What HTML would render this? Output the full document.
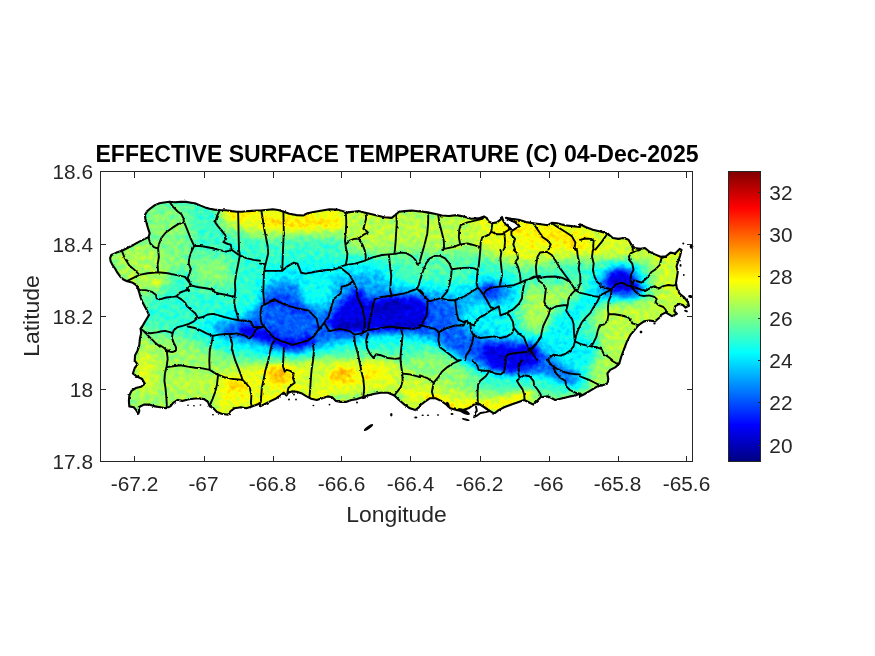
<!DOCTYPE html>
<html lang="en"><head><meta charset="utf-8"><title>Effective Surface Temperature</title>
<style>html,body{margin:0;padding:0;background:#fff}body{width:875px;height:656px;overflow:hidden}svg{display:block}text{font-family:"Liberation Sans",sans-serif;fill:#262626}</style></head><body>
<svg width="875" height="656" viewBox="0 0 875 656">
<defs>
<clipPath id="island"><path d="M110.1,258.1 111.3,255.0 116.5,252.6 121.9,250.8 127.4,248.0 133.8,244.7 139.3,241.6 144.8,238.9 148.5,237.1 149.7,233.4 147.9,227.9 146.6,223.3 145.3,218.8 145.0,214.7 147.2,211.1 151.2,207.8 154.9,205.1 159.4,203.2 164.0,202.5 169.5,201.8 175.0,202.3 180.5,201.9 185.9,201.9 191.4,202.7 196.0,203.6 200.6,205.6 205.1,207.4 209.7,208.7 214.3,209.6 219.8,210.0 226.2,210.2 231.7,211.1 237.1,211.8 241.7,211.8 246.3,211.3 251.8,210.9 257.3,210.5 260.0,210.5 260.0,210.5 265.5,210.0 272.8,209.3 278.3,210.0 283.8,211.8 289.3,213.7 296.6,215.1 303.0,215.5 307.5,213.3 314.9,211.8 322.2,210.5 329.5,209.3 336.8,209.6 342.3,211.1 347.8,212.4 353.3,211.8 358.7,211.1 364.2,212.4 369.7,213.7 377.0,215.5 384.3,217.3 391.7,217.9 396.2,214.2 399.0,211.8 404.5,211.1 411.8,210.5 420.0,211.5 420.0,211.1 427.3,212.4 434.6,213.7 441.9,215.5 449.3,216.0 456.6,215.1 463.9,216.6 471.2,218.8 478.5,218.4 484.0,216.6 486.7,217.9 488.6,221.5 492.2,223.3 496.8,222.4 500.5,219.7 501.9,216.9 503.2,220.6 505.6,224.3 509.6,227.5 512.3,230.7 515.1,228.8 519.7,226.1 515.1,222.4 509.6,219.7 505.9,217.9 511.4,218.8 518.7,219.7 526.1,222.1 533.4,223.3 540.7,224.3 548.0,225.2 551.7,222.8 557.1,223.3 564.5,225.2 571.8,226.1 580.0,227.0 580.0,224.3 585.5,227.0 592.8,229.7 600.1,231.6 607.4,233.4 612.9,238.0 618.4,238.9 623.9,238.0 628.5,239.8 631.2,244.4 634.9,248.0 640.3,248.9 644.9,248.0 649.5,251.7 655.0,254.4 660.5,256.8 665.9,256.3 670.5,252.6 675.1,253.5 679.7,248.9 681.5,249.9 680.2,255.3 678.4,260.8 676.5,266.3 677.8,271.8 676.9,277.3 676.0,282.8 676.9,288.3 679.7,293.7 684.2,297.4 687.9,302.0 689.0,305.7 685.4,307.6 682.9,305.1 679.3,303.9 675.0,306.3 674.4,311.2 676.8,313.7 672.0,316.1 667.7,313.7 665.9,312.4 661.0,314.9 660.5,316.8 655.0,321.4 649.5,320.5 644.0,321.4 638.5,325.1 634.9,329.6 630.3,335.1 626.6,342.4 623.9,349.7 621.1,357.1 619.3,363.5 615.7,367.1 610.2,369.9 607.4,373.5 608.3,379.0 607.4,383.6 601.9,385.4 597.4,386.3 592.8,389.1 588.2,391.8 583.7,394.5 580.0,396.4 580.0,393.6 575.4,395.5 569.9,396.4 562.6,398.2 555.3,400.0 548.0,396.4 540.7,397.3 537.0,400.9 533.4,404.6 529.7,402.8 524.2,400.0 518.7,401.9 511.4,404.6 504.1,407.3 498.6,410.1 494.1,413.7 488.6,410.1 483.1,406.4 478.5,403.7 473.9,404.6 468.5,408.3 463.0,410.1 456.6,410.1 450.2,408.3 446.5,404.6 441.0,400.9 435.5,398.2 430.1,398.2 424.6,401.9 420.0,405.5 420.0,406.4 415.4,410.1 409.9,408.3 404.5,404.6 399.0,400.0 394.4,395.5 388.0,392.7 380.7,392.7 373.4,394.0 367.9,395.5 362.4,397.3 356.9,399.1 351.4,400.0 345.9,401.9 340.5,401.9 335.9,400.9 332.2,397.3 327.7,396.4 322.2,398.2 316.7,400.0 311.2,398.7 306.6,396.4 302.1,393.6 296.6,391.8 292.0,391.4 288.3,392.7 286.5,395.5 283.8,392.7 280.1,395.5 276.5,398.2 271.0,400.9 265.5,403.7 260.0,406.4 260.0,402.8 257.3,404.6 251.8,406.4 246.3,408.3 240.8,407.3 234.4,408.3 230.7,411.0 228.0,414.7 221.6,413.7 217.0,411.9 213.4,408.3 209.7,406.4 207.9,401.9 204.2,399.1 198.7,398.2 193.3,398.7 187.8,399.5 182.3,400.9 177.7,400.0 173.1,402.8 170.4,406.4 165.8,408.3 160.3,407.3 154.9,406.4 149.4,404.6 143.9,404.6 138.8,407.3 139.3,411.0 138.4,413.7 136.2,410.1 133.8,407.3 129.3,406.4 128.9,400.9 129.3,395.5 131.5,390.9 135.7,388.1 141.1,386.7 144.8,383.6 142.1,379.0 136.6,376.3 132.9,373.5 134.7,368.0 137.5,364.4 134.7,360.7 135.1,355.2 137.5,350.7 139.3,345.2 139.9,338.8 141.1,333.3 140.6,328.7 143.0,325.1 145.7,320.5 149.0,315.0 149.0,315.0 147.2,311.1 144.8,306.5 142.4,302.0 140.6,297.4 139.3,292.8 138.0,288.6 136.2,285.0 132.0,282.4 127.1,281.3 123.4,279.5 120.1,276.4 117.4,272.7 115.0,268.5 112.4,264.9 110.6,261.2 110.1,258.1Z"/>
</clipPath>
<filter id="jet" filterUnits="userSpaceOnUse" x="90" y="165" width="620" height="300" color-interpolation-filters="sRGB">
<feTurbulence type="fractalNoise" baseFrequency="0.2" numOctaves="2" seed="7" result="n"/>
<feColorMatrix in="n" type="matrix" values="1 0 0 0 0  1 0 0 0 0  1 0 0 0 0  0 0 0 0 1" result="ng"/>
<feComposite in="SourceGraphic" in2="ng" operator="arithmetic" k1="0" k2="1" k3="0.15" k4="-0.075" result="f"/>
<feComponentTransfer in="f"><feFuncR type="table" tableValues="0 0 0 0 0.5 1 1 1 0.5"/><feFuncG type="table" tableValues="0 0 0.5 1 1 1 0.5 0 0"/><feFuncB type="table" tableValues="0.5 1 1 1 0.5 0 0 0 0"/></feComponentTransfer>
</filter>
<filter id="b2_5" filterUnits="userSpaceOnUse" x="60" y="140" width="680" height="350" color-interpolation-filters="sRGB"><feGaussianBlur stdDeviation="2.5"/></filter>
<filter id="b3" filterUnits="userSpaceOnUse" x="60" y="140" width="680" height="350" color-interpolation-filters="sRGB"><feGaussianBlur stdDeviation="3"/></filter>
<filter id="b3_5" filterUnits="userSpaceOnUse" x="60" y="140" width="680" height="350" color-interpolation-filters="sRGB"><feGaussianBlur stdDeviation="3.5"/></filter>
<filter id="b4" filterUnits="userSpaceOnUse" x="60" y="140" width="680" height="350" color-interpolation-filters="sRGB"><feGaussianBlur stdDeviation="4"/></filter>
<filter id="b5" filterUnits="userSpaceOnUse" x="60" y="140" width="680" height="350" color-interpolation-filters="sRGB"><feGaussianBlur stdDeviation="5"/></filter>
<filter id="b6" filterUnits="userSpaceOnUse" x="60" y="140" width="680" height="350" color-interpolation-filters="sRGB"><feGaussianBlur stdDeviation="6"/></filter>
<filter id="b7" filterUnits="userSpaceOnUse" x="60" y="140" width="680" height="350" color-interpolation-filters="sRGB"><feGaussianBlur stdDeviation="7"/></filter>
<filter id="b8" filterUnits="userSpaceOnUse" x="60" y="140" width="680" height="350" color-interpolation-filters="sRGB"><feGaussianBlur stdDeviation="8"/></filter>
<filter id="rough" filterUnits="userSpaceOnUse" x="90" y="165" width="620" height="300"><feTurbulence type="fractalNoise" baseFrequency="0.3" numOctaves="2" seed="3" result="t"/><feDisplacementMap in="SourceGraphic" in2="t" scale="2.2" xChannelSelector="R" yChannelSelector="G"/></filter>
<linearGradient id="cb" x1="0" y1="1" x2="0" y2="0">
<stop offset="0.000" stop-color="rgb(0,0,128)"/>
<stop offset="0.125" stop-color="rgb(0,0,255)"/>
<stop offset="0.250" stop-color="rgb(0,128,255)"/>
<stop offset="0.375" stop-color="rgb(0,255,255)"/>
<stop offset="0.500" stop-color="rgb(128,255,128)"/>
<stop offset="0.625" stop-color="rgb(255,255,0)"/>
<stop offset="0.750" stop-color="rgb(255,128,0)"/>
<stop offset="0.875" stop-color="rgb(255,0,0)"/>
<stop offset="1.000" stop-color="rgb(128,0,0)"/>
</linearGradient>
</defs>
<rect width="875" height="656" fill="#fff"/>
<g clip-path="url(#island)"><g filter="url(#jet)">
<rect x="90" y="165" width="620" height="300" fill="#6e6e6e"/>
<path d="M105.0,250.0 150.0,238.0 172.0,255.0 170.0,285.0 150.0,300.0 135.0,300.0 120.0,290.0Z" fill="#8e8e8e" opacity="0.9" filter="url(#b7)"/>
<ellipse cx="157.0" cy="283.0" rx="5" ry="4" fill="#a7a7a7" opacity="0.9" filter="url(#b3)"/>
<path d="M148.0,205.0 185.0,205.0 195.0,240.0 165.0,250.0 143.0,235.0Z" fill="#858585" opacity="0.85" filter="url(#b6)"/>
<path d="M192.0,255.0 232.0,258.0 236.0,285.0 195.0,290.0Z" fill="#858585" opacity="0.85" filter="url(#b6)"/>
<path d="M160.0,245.0 190.0,242.0 192.0,268.0 162.0,272.0Z" fill="#838383" opacity="0.8" filter="url(#b5)"/>
<path d="M125.0,325.0 190.0,338.0 225.0,355.0 262.0,366.0 262.0,420.0 120.0,420.0Z" fill="#878787" opacity="1" filter="url(#b8)"/>
<ellipse cx="145.0" cy="372.0" rx="11" ry="22" fill="#9a9a9a" opacity="0.9" filter="url(#b6)"/>
<ellipse cx="190.0" cy="385.0" rx="25" ry="9" fill="#929292" opacity="0.8" filter="url(#b6)"/>
<path d="M222.0,200.0 350.0,203.0 400.0,206.0 400.0,226.0 345.0,234.0 262.0,236.0 222.0,226.0Z" fill="#9b9b9b" opacity="1" filter="url(#b6)"/>
<path d="M265.0,222.0 300.0,224.0 340.0,221.0" fill="none" stroke="#aeaeae" stroke-width="7" stroke-linecap="round" stroke-linejoin="round" opacity="0.8" filter="url(#b3)"/>
<path d="M228.0,214.0 255.0,216.0" fill="none" stroke="#a8a8a8" stroke-width="6" stroke-linecap="round" stroke-linejoin="round" opacity="0.8" filter="url(#b3)"/>
<path d="M345.0,205.0 500.0,210.0 500.0,252.0 440.0,256.0 395.0,254.0 345.0,250.0Z" fill="#8e8e8e" opacity="1" filter="url(#b7)"/>
<path d="M475.0,212.0 600.0,220.0 640.0,235.0 640.0,256.0 560.0,260.0 528.0,266.0 500.0,260.0 482.0,246.0Z" fill="#9b9b9b" opacity="1" filter="url(#b7)"/>
<path d="M510.0,226.0 545.0,234.0 575.0,242.0 600.0,246.0" fill="none" stroke="#a8a8a8" stroke-width="12" stroke-linecap="round" stroke-linejoin="round" opacity="0.85" filter="url(#b5)"/>
<path d="M590.0,225.0 700.0,235.0 700.0,330.0 655.0,330.0 650.0,262.0 590.0,255.0Z" fill="#949494" opacity="1" filter="url(#b8)"/>
<path d="M522.0,286.0 585.0,284.0 590.0,300.0 552.0,310.0 548.0,335.0 525.0,335.0Z" fill="#8d8d8d" opacity="0.9" filter="url(#b6)"/>
<path d="M596.0,300.0 640.0,300.0 690.0,295.0 690.0,340.0 640.0,372.0 612.0,345.0 596.0,330.0Z" fill="#909090" opacity="1" filter="url(#b6)"/>
<path d="M566.0,296.0 598.0,300.0 596.0,322.0 575.0,326.0Z" fill="#898989" opacity="0.8" filter="url(#b5)"/>
<path d="M598.0,340.0 628.0,338.0 632.0,372.0 604.0,394.0 588.0,394.0 592.0,365.0Z" fill="#8e8e8e" opacity="0.9" filter="url(#b5)"/>
<path d="M215.0,376.0 262.0,362.0 300.0,358.0 380.0,358.0 400.0,360.0 405.0,372.0 405.0,430.0 215.0,425.0Z" fill="#9a9a9a" opacity="1" filter="url(#b6)"/>
<path d="M395.0,368.0 425.0,372.0 450.0,380.0 480.0,392.0 520.0,396.0 560.0,398.0 600.0,390.0 620.0,400.0 560.0,425.0 395.0,430.0Z" fill="#909090" opacity="1" filter="url(#b6)"/>
<path d="M425.0,345.0 445.0,352.0 470.0,368.0 480.0,385.0 440.0,380.0 425.0,368.0Z" fill="#898989" opacity="0.8" filter="url(#b6)"/>
<ellipse cx="279.0" cy="374.0" rx="12" ry="9" fill="#b4b4b4" opacity="0.9" filter="url(#b4)"/>
<ellipse cx="342.0" cy="375.0" rx="13" ry="7" fill="#b5b5b5" opacity="0.9" filter="url(#b4)"/>
<ellipse cx="372.0" cy="371.0" rx="7" ry="7" fill="#a8a8a8" opacity="0.8" filter="url(#b4)"/>
<ellipse cx="236.0" cy="386.0" rx="13" ry="7" fill="#acacac" opacity="0.9" filter="url(#b4)"/>
<ellipse cx="418.0" cy="362.0" rx="9" ry="6" fill="#969696" opacity="0.8" filter="url(#b4)"/>
<ellipse cx="452.0" cy="408.0" rx="8" ry="4" fill="#b2b2b2" opacity="0.9" filter="url(#b3)"/>
<ellipse cx="518.0" cy="396.0" rx="8" ry="3" fill="#acacac" opacity="0.8" filter="url(#b3)"/>
<path d="M405.0,394.0 430.0,396.0 450.0,404.0 470.0,405.0 490.0,405.0 510.0,401.0 530.0,394.0" fill="none" stroke="#a1a1a1" stroke-width="9" stroke-linecap="round" stroke-linejoin="round" opacity="0.9" filter="url(#b3)"/>
<path d="M332.0,399.0 350.0,397.0 375.0,394.0 400.0,396.0" fill="none" stroke="#818181" stroke-width="8" stroke-linecap="round" stroke-linejoin="round" opacity="0.8" filter="url(#b3)"/>
<ellipse cx="325.0" cy="369.0" rx="9" ry="5" fill="#898989" opacity="0.7" filter="url(#b4)"/>
<ellipse cx="312.0" cy="380.0" rx="8" ry="14" fill="#8d8d8d" opacity="0.7" filter="url(#b5)"/>
<path d="M150.0,292.0 185.0,286.0 225.0,296.0 222.0,334.0 190.0,336.0 160.0,330.0 146.0,312.0Z" fill="#6b6b6b" opacity="0.8" filter="url(#b7)"/>
<path d="M200.0,322.0 225.0,312.0 245.0,300.0 256.0,275.0 268.0,266.0 300.0,262.0 340.0,262.0 372.0,262.0 395.0,275.0 405.0,283.0 430.0,280.0 455.0,282.0 478.0,276.0 500.0,276.0 520.0,285.0 522.0,300.0 508.0,310.0 510.0,325.0 535.0,335.0 552.0,325.0 565.0,308.0 580.0,295.0 592.0,275.0 605.0,265.0 625.0,262.0 642.0,272.0 645.0,288.0 635.0,300.0 610.0,303.0 595.0,308.0 580.0,325.0 572.0,338.0 588.0,340.0 600.0,342.0 598.0,352.0 588.0,360.0 583.0,375.0 572.0,386.0 560.0,385.0 548.0,375.0 530.0,376.0 505.0,376.0 480.0,368.0 462.0,355.0 440.0,346.0 415.0,340.0 385.0,340.0 350.0,345.0 320.0,352.0 295.0,358.0 268.0,356.0 245.0,352.0 222.0,348.0 205.0,340.0Z" fill="#5e5e5e" opacity="1" filter="url(#b6)"/>
<path d="M232.0,262.0 262.0,258.0 262.0,310.0 236.0,312.0Z" fill="#6b6b6b" opacity="0.8" filter="url(#b6)"/>
<path d="M395.0,250.0 470.0,255.0 470.0,282.0 400.0,280.0Z" fill="#767676" opacity="0.8" filter="url(#b7)"/>
<path d="M215.0,326.0 245.0,320.0 262.0,300.0 268.0,284.0 290.0,280.0 320.0,284.0 345.0,277.0 356.0,274.0 378.0,272.0 390.0,288.0 420.0,290.0 440.0,293.0 456.0,296.0 475.0,290.0 482.0,282.0 505.0,282.0 516.0,292.0 510.0,302.0 492.0,304.0 478.0,302.0 465.0,306.0 460.0,318.0 468.0,332.0 490.0,340.0 515.0,342.0 535.0,345.0 548.0,356.0 565.0,370.0 580.0,378.0 575.0,384.0 558.0,378.0 545.0,372.0 520.0,372.0 495.0,368.0 475.0,358.0 455.0,346.0 435.0,338.0 410.0,334.0 380.0,334.0 350.0,338.0 320.0,344.0 295.0,350.0 270.0,346.0 245.0,338.0 220.0,334.0Z" fill="#4c4c4c" opacity="1" filter="url(#b5)"/>
<path d="M300.0,278.0 330.0,276.0 334.0,300.0 318.0,306.0 300.0,298.0Z" fill="#676767" opacity="0.9" filter="url(#b5)"/>
<path d="M215.0,327.0 240.0,323.0 262.0,309.0 266.0,291.0 285.0,285.0 298.0,291.0 300.0,303.0 312.0,311.0 322.0,318.0 332.0,306.0 346.0,293.0 352.0,285.0 362.0,288.0 368.0,297.0 395.0,295.0 425.0,297.0 440.0,300.0 452.0,302.0 458.0,310.0 456.0,322.0 465.0,332.0 485.0,340.0 515.0,342.0 535.0,345.0 548.0,356.0 565.0,370.0 580.0,378.0 575.0,384.0 558.0,378.0 545.0,372.0 520.0,373.0 495.0,371.0 470.0,363.0 450.0,351.0 435.0,338.0 410.0,332.0 380.0,332.0 350.0,336.0 320.0,342.0 295.0,349.0 270.0,345.0 245.0,338.0 220.0,333.0Z" fill="#373737" opacity="1" filter="url(#b4)"/>
<path d="M478.0,290.0 486.0,284.0 500.0,285.0 504.0,294.0 494.0,300.0 482.0,298.0Z" fill="#343434" opacity="1" filter="url(#b3)"/>
<path d="M598.0,290.0 604.0,276.0 615.0,268.0 632.0,268.0 640.0,280.0 645.0,292.0 628.0,298.0 608.0,296.0Z" fill="#393939" opacity="1" filter="url(#b4)"/>
<path d="M243.0,330.0 262.0,334.0 280.0,342.0 296.0,345.0 310.0,340.0" fill="none" stroke="#181818" stroke-width="9" stroke-linecap="round" stroke-linejoin="round" opacity="1" filter="url(#b3)"/>
<path d="M268.0,304.0 276.0,300.0 288.0,305.0 305.0,311.0" fill="none" stroke="#252525" stroke-width="5" stroke-linecap="round" stroke-linejoin="round" opacity="0.9" filter="url(#b2_5)"/>
<path d="M328.0,322.0 336.0,312.0 348.0,300.0 356.0,290.0 364.0,292.0 366.0,304.0 374.0,300.0 392.0,297.0 412.0,297.0 426.0,301.0 428.0,316.0 422.0,327.0 396.0,328.0 372.0,330.0 350.0,331.0 336.0,330.0Z" fill="#1a1a1a" opacity="1" filter="url(#b3)"/>
<path d="M478.0,348.0 495.0,344.0 520.0,346.0 534.0,348.0 540.0,358.0 530.0,368.0 510.0,372.0 490.0,366.0Z" fill="#1a1a1a" opacity="1" filter="url(#b3_5)"/>
<path d="M606.0,282.0 612.0,272.0 626.0,270.0 632.0,280.0 640.0,290.0 625.0,292.0 612.0,290.0Z" fill="#161616" opacity="1" filter="url(#b3)"/>
<ellipse cx="488.0" cy="289.0" rx="5" ry="4" fill="#1d1d1d" opacity="0.9" filter="url(#b3)"/>
<path d="M340.0,327.0 362.0,325.0" fill="none" stroke="#070707" stroke-width="5" stroke-linecap="round" stroke-linejoin="round" opacity="1" filter="url(#b2_5)"/>
<path d="M378.0,309.0 398.0,305.0" fill="none" stroke="#090909" stroke-width="6" stroke-linecap="round" stroke-linejoin="round" opacity="1" filter="url(#b3)"/>
<path d="M385.0,326.0 420.0,324.0" fill="none" stroke="#090909" stroke-width="4" stroke-linecap="round" stroke-linejoin="round" opacity="1" filter="url(#b2_5)"/>
<ellipse cx="531.0" cy="351.0" rx="5" ry="4" fill="#090909" opacity="1" filter="url(#b3)"/>
<path d="M600.0,306.0 640.0,304.0 646.0,348.0 622.0,362.0 602.0,346.0Z" fill="#8e8e8e" opacity="0.85" filter="url(#b4)"/>
<path d="M524.0,296.0 548.0,296.0 546.0,330.0 528.0,332.0Z" fill="#8b8b8b" opacity="0.7" filter="url(#b4)"/>
</g></g>
<g fill="none" stroke="#000" stroke-width="1.9" stroke-linejoin="round" stroke-linecap="round" filter="url(#rough)">
<path d="M169.5,201.8 173.1,206.9 177.7,211.5 181.4,214.2 183.2,217.9 184.1,222.1 186.9,228.8 190.5,238.0 194.2,245.8 M184.1,222.1 178.6,223.9 172.2,227.9 165.8,232.5 161.3,238.0 158.9,244.4 158.1,248.4 M148.5,237.4 150.3,243.5 153.9,247.1 158.1,248.6 158.9,257.2 157.6,264.5 158.1,272.2 M121.9,250.8 124.7,258.1 129.3,265.4 135.7,270.9 139.3,274.9 M127.4,280.9 132.9,278.2 139.3,274.9 147.5,273.3 158.1,272.2 167.7,273.3 176.8,275.1 185.0,276.9 189.6,282.8 191.4,285.5 M194.2,245.8 191.4,251.7 189.2,258.1 188.7,263.6 190.9,269.1 189.6,273.6 187.8,277.3 189.6,281.9 191.4,285.5 M194.2,245.8 202.4,246.2 211.5,248.0 218.9,249.9 226.2,251.7 231.7,249.9 234.4,251.7 238.1,254.4 239.9,255.3 M219.8,210.0 217.0,216.0 215.2,222.4 217.9,226.1 221.6,230.7 225.3,235.2 226.2,238.9 223.4,242.2 228.0,244.0 230.7,244.7 231.7,249.9 M238.1,211.8 238.4,222.4 238.6,235.2 239.0,249.9 239.9,255.3 M239.9,255.3 238.1,264.5 236.2,273.6 234.9,282.8 235.3,289.6 M239.9,255.3 246.3,258.1 253.6,259.9 260.0,260.8 M191.4,285.5 198.7,287.3 206.1,288.3 213.8,290.0 M136.6,285.5 139.3,290.1 145.7,290.1 152.1,291.9 155.8,294.7 156.7,298.3 159.8,299.4 M186.3,289.7 189.6,286.4 191.4,285.5 M261.5,211.1 262.7,218.8 264.0,227.9 265.9,237.1 267.7,246.2 268.2,253.5 266.4,260.8 264.6,268.1 264.6,270.9 M260.0,263.6 265.5,264.1 M283.4,211.8 283.8,231.6 283.0,249.9 282.3,270.9 264.6,270.9 M282.3,270.9 287.4,266.3 293.8,262.7 297.5,263.6 299.3,268.1 301.1,272.7 305.7,273.6 314.9,271.8 324.0,270.3 333.1,269.6 338.6,268.1 341.4,266.3 345.9,264.9 355.1,263.6 364.2,260.8 373.4,257.2 382.5,255.0 388.9,254.4 395.3,253.9 401.7,252.6 406.3,253.1 411.8,256.3 415.4,259.9 417.3,264.5 420.0,262.7 M345.9,212.4 346.3,222.4 345.9,231.6 345.0,240.7 345.9,248.0 347.4,253.5 346.9,259.0 345.6,264.9 M345.9,244.4 349.6,240.7 354.2,238.9 358.7,238.5 361.5,236.1 364.2,234.3 367.9,232.5 366.1,230.7 363.3,228.8 364.2,226.1 365.1,222.4 366.1,218.8 365.7,213.3 M358.7,238.5 362.4,244.4 364.6,249.9 365.7,255.3 365.7,260.5 M396.2,214.2 396.8,222.4 396.2,231.6 395.7,240.7 394.9,249.9 394.4,253.9 M388.9,254.4 389.5,260.8 390.2,268.1 391.3,275.5 390.7,282.8 390.2,290.1 391.7,296.5 M428.2,212.4 428.2,222.4 427.3,233.4 424.6,244.4 421.5,255.3 420.0,260.8 M438.3,215.1 439.2,222.4 441.6,231.6 443.8,240.7 444.1,248.9 M444.1,248.9 442.3,249.9 M429.7,258.5 425.9,263.6 422.7,271.8 420.4,279.1 M444.1,248.9 452.9,247.1 460.2,244.4 467.5,243.5 474.9,245.3 480.0,247.1 M460.2,244.4 458.8,237.1 459.3,229.7 460.6,225.2 467.5,222.4 474.9,220.6 482.2,218.8 484.4,216.6 M492.2,224.3 491.3,231.6 488.6,235.2 482.2,237.4 480.7,242.5 480.3,249.9 M491.3,231.6 496.8,234.3 502.3,234.3 505.9,231.6 510.5,228.8 M504.5,234.3 505.0,240.7 504.5,248.0 503.4,249.9 M511.4,230.7 511.4,235.2 515.1,238.9 513.3,244.4 515.1,249.9 M548.4,249.8 550.7,244.4 548.0,240.7 542.5,237.1 538.9,231.6 535.2,226.1 533.4,223.3 M551.7,223.3 559.0,227.9 566.3,232.5 571.8,236.1 575.4,242.5 574.5,248.0 575.4,249.9 M429.7,301.0 429.1,301.1 425.5,297.4 421.8,291.9 420.0,290.1 M607.4,233.8 601.9,241.6 597.4,247.1 595.4,249.6 M580.0,239.8 585.5,238.5 591.0,238.9 593.7,240.7 593.2,246.2 593.5,249.7 M631.2,244.4 633.0,248.9 632.5,249.9 M665.9,256.6 661.4,258.1 661.1,259.7 M140.6,328.7 145.7,332.4 150.3,333.3 156.7,332.4 159.8,331.8 M143.0,330.5 149.4,336.9 154.9,342.4 160.0,346.7 M165.8,350.1 166.7,350.7 170.2,350.1 M166.7,350.7 167.7,358.9 166.7,366.2 164.9,373.5 164.4,380.8 165.5,388.1 166.2,395.5 166.7,402.8 166.7,407.3 M166.7,367.1 173.1,366.2 180.5,365.3 187.8,366.6 195.1,367.7 202.4,368.4 209.7,369.9 M209.7,369.9 209.3,360.7 209.7,351.6 210.0,350.0 M232.3,350.0 232.6,351.6 235.3,360.7 239.0,369.9 241.7,377.2 242.6,379.9 M209.7,369.9 217.0,374.4 224.3,377.2 233.5,379.0 242.6,379.9 M217.9,376.3 217.0,384.5 215.2,391.8 212.5,399.1 209.7,405.5 M242.6,379.9 246.3,383.6 249.9,388.1 251.4,395.5 250.9,402.8 251.8,406.4 M260.9,400.9 261.8,388.1 263.7,379.0 265.5,369.9 268.2,360.7 270.1,351.6 271.9,344.3 274.6,340.6 M283.8,347.9 283.4,357.1 282.9,366.2 284.7,371.7 286.5,369.9 290.2,370.8 293.8,373.5 292.9,378.1 294.7,382.7 291.1,385.4 288.3,388.1 287.4,392.7 M313.0,344.3 313.9,351.6 313.0,360.7 311.6,369.9 310.8,379.0 310.3,388.1 309.4,397.3 M354.2,336.6 355.1,344.3 357.8,353.4 359.7,362.5 361.5,371.7 363.3,379.0 364.2,388.1 363.3,397.3 M367.9,333.3 366.1,340.6 367.0,347.9 369.7,353.4 373.4,358.0 376.1,354.3 380.7,355.2 388.0,358.0 395.3,358.9 400.8,358.0 M400.8,327.8 402.6,335.1 401.7,344.3 400.8,353.4 400.4,358.9 401.2,366.2 402.3,373.5 402.6,380.8 400.8,387.2 397.1,391.8 394.4,395.5 M402.3,373.5 409.9,374.4 417.3,376.3 420.0,377.2 M420.0,375.3 427.3,378.1 433.7,382.7 431.9,391.8 433.7,398.2 M433.7,382.7 438.3,377.2 441.9,371.7 447.4,367.1 452.9,363.5 459.3,360.7 460.8,360.1 M472.7,360.3 473.0,360.7 477.6,366.2 478.5,369.9 484.0,370.8 489.5,370.8 M489.5,370.8 485.8,376.3 480.3,380.8 478.1,384.5 477.6,391.8 477.6,399.1 478.1,404.6 M489.5,370.8 495.0,373.5 500.5,374.4 504.1,371.7 505.0,366.2 505.9,360.7 505.9,360.2 M521.7,360.3 521.5,360.7 518.7,366.2 518.4,373.5 519.7,378.1 516.9,380.8 519.7,385.4 522.4,389.1 524.2,394.5 524.6,400.0 M519.7,378.1 524.2,375.3 529.7,376.3 533.4,380.8 534.3,385.4 537.9,390.0 540.7,394.5 541.1,397.3 M547.7,360.3 548.0,360.7 551.7,365.3 557.1,368.9 562.6,371.7 569.9,373.5 577.3,374.4 580.0,374.4 M548.0,360.7 548.8,360.2 M553.5,368.0 556.2,373.5 560.8,378.1 565.4,380.8 566.3,386.3 569.9,390.0 575.4,392.7 580.0,393.6 M458.9,360.0 459.3,360.3 M420.0,325.1 427.3,326.9 429.8,327.5 M611.2,360.0 612.0,360.7 616.6,363.5 619.3,363.5 M580.0,376.3 589.1,379.9 598.3,384.5 601.9,385.4 M264.0,271.7 263.4,289.8 M353.1,280.9 347.4,285.4 341.7,286.6 340.6,293.4 333.7,299.1 331.4,307.1 328.7,316.3 324.1,322.7 318.9,330.0 M340.6,267.8 349.7,275.1 353.1,280.9 356.6,288.9 357.7,298.0 362.3,307.1 364.6,318.6 364.6,327.7 362.3,333.4 M270.2,301.2 274.3,299.1 277.7,301.4 285.7,304.9 297.1,308.3 308.6,310.6 313.1,315.1 316.6,318.6 318.9,328.9 314.3,335.7 308.6,340.3 292.6,344.9 282.3,341.4 274.3,338.0 270.3,334.0 M324.1,322.7 329.1,331.1 340.6,328.9 349.7,331.1 354.3,334.6 362.3,333.4 368.0,330.0 377.1,328.9 388.6,326.6 400.0,327.7 413.7,328.9 419.9,327.3 M368.0,330.0 370.3,318.6 372.6,307.1 374.9,299.1 381.7,296.9 390.9,295.7 404.6,293.4 413.7,290.0 417.1,288.9 422.9,294.6 425.6,296.9 M419.9,327.3 426.3,316.3 427.4,307.1 427.4,299.1 M420.3,279.0 419.0,284.3 417.1,288.9 M430.0,258.4 435.0,255.9 440.1,255.9 445.1,258.4 449.3,263.4 451.8,269.3 451.0,276.8 449.3,285.2 446.8,291.9 441.7,297.8 435.0,299.8 430.0,301.1 M451.8,269.3 460.2,268.1 468.6,267.6 474.4,268.4 477.8,270.1 M480.3,250.0 479.5,258.4 478.6,266.8 477.8,270.1 477.0,276.8 476.6,283.5 477.8,287.7 M441.7,298.3 448.4,300.3 455.2,300.0 463.5,297.0 470.2,292.8 475.3,289.4 477.8,287.7 480.3,290.2 483.7,294.9 487.9,302.0 490.4,307.0 494.6,308.7 498.8,306.2 499.6,310.4 500.4,315.4 507.1,312.9 513.8,308.7 518.9,303.7 521.9,298.6 522.6,291.9 523.9,285.2 525.6,280.2 M483.7,294.9 485.3,291.1 490.4,287.7 497.1,286.9 505.5,286.1 513.8,285.2 520.5,282.7 525.6,280.2 M455.2,300.0 456.0,307.0 456.8,313.7 458.5,319.6 463.5,322.1 466.1,320.9 470.2,323.8 474.4,325.5 476.1,320.4 480.3,317.1 485.3,314.6 490.4,310.7 494.6,308.7 M470.2,323.8 471.1,330.5 473.6,335.5 480.3,338.0 487.0,337.2 493.7,336.4 500.4,338.0 507.1,336.4 512.2,333.0 513.8,328.0 513.0,322.1 510.5,317.1 508.8,314.6 507.1,312.9 M430.0,328.0 435.0,328.8 439.2,332.2 446.8,328.0 455.2,325.5 463.5,325.5 466.1,320.9 M439.2,332.2 438.4,340.5 440.1,347.3 446.8,352.3 453.5,357.3 456.8,360.0 M473.6,335.5 471.9,343.9 469.4,350.6 466.1,355.6 465.2,360.0 M513.8,328.0 518.9,333.8 523.9,337.2 526.4,343.9 528.9,348.9 530.6,350.6 M530.6,350.6 523.9,352.3 513.8,353.1 507.1,354.8 504.6,360.0 M530.6,350.6 534.8,345.6 538.2,340.5 540.0,337.5 M530.6,350.6 534.0,355.6 537.3,360.0 M500.4,250.0 501.3,252.5 500.4,258.4 501.3,266.8 502.1,275.2 500.4,281.9 499.6,286.4 M513.8,250.0 517.2,253.4 518.0,258.4 515.5,261.7 518.0,266.8 519.7,273.5 520.5,278.5 520.5,282.7 M525.6,280.2 530.6,278.8 535.6,276.8 540.0,276.0 M536.7,276.8 535.9,266.8 537.5,256.7 540.1,252.5 546.8,251.7 551.8,255.0 555.2,260.1 560.2,268.4 565.2,275.2 570.2,281.9 572.8,286.1 575.3,290.2 M530.0,278.5 533.4,276.8 536.7,276.8 540.1,277.7 546.8,276.8 555.2,276.5 561.9,277.7 566.9,280.2 570.2,282.2 M536.7,276.8 539.2,281.0 542.6,283.5 545.9,288.6 545.1,295.3 544.3,302.0 546.8,307.0 550.1,309.5 556.8,306.2 563.5,305.3 567.7,305.0 M575.3,290.2 580.3,292.8 587.0,294.4 593.7,296.1 599.6,297.0 M575.3,290.2 571.9,293.6 568.6,298.6 567.7,305.0 566.1,310.4 568.6,314.6 571.9,318.8 573.6,323.8 573.9,330.5 574.4,337.2 574.9,341.4 M599.6,297.0 597.1,302.0 593.7,307.0 590.4,312.9 586.2,317.1 582.0,322.1 578.6,328.8 576.1,335.5 574.9,341.4 M599.6,325.5 597.9,330.5 596.2,337.2 593.7,342.2 591.2,346.4 M591.2,346.4 597.1,347.3 601.3,348.9 603.8,354.0 608.8,357.3 612.2,360.0 M574.9,341.4 580.3,343.9 587.0,345.6 591.2,346.4 M574.9,341.4 573.6,346.4 570.2,350.6 565.2,354.0 560.2,355.6 553.5,354.8 550.1,357.3 546.8,360.0 M550.1,309.5 548.4,315.4 545.9,320.4 543.4,325.5 541.7,332.2 540.9,337.2 537.5,342.2 533.4,346.4 530.0,349.3 M577.0,250.0 577.8,256.7 579.5,263.4 578.6,268.4 580.3,275.2 580.3,283.5 577.8,289.4 575.3,290.2 M592.9,250.0 592.0,256.7 593.7,263.4 592.9,270.1 594.6,276.8 597.1,281.9 599.8,284.1 M628.9,256.7 630.6,253.4 635.6,250.8 640.0,250.0 M628.9,256.7 629.7,259.8 M160.0,299.4 166.3,297.5 172.6,296.9 176.3,296.3 180.1,292.5 185.1,290.6 188.9,290.0 M176.3,296.3 181.4,299.4 185.1,302.6 187.0,306.3 191.4,310.1 195.2,313.3 197.1,316.4 197.1,318.3 M197.1,318.3 202.7,317.0 207.8,314.5 212.8,313.9 217.8,315.1 224.1,317.0 231.7,318.9 238.6,320.2 245.5,320.8 250.5,321.4 252.4,324.6 253.7,327.1 260.6,327.1 264.3,326.5 M197.1,318.3 193.9,321.4 188.9,323.9 182.6,325.8 177.6,327.1 173.8,330.2 172.6,333.4 171.9,337.8 173.8,342.8 175.7,346.6 176.3,350.0 M187.7,326.5 193.9,327.7 200.2,330.2 206.5,333.4 212.8,335.9 219.1,334.6 225.4,334.0 231.7,334.0 236.7,333.4 241.7,334.6 245.5,335.9 249.3,338.4 253.0,335.3 255.5,330.2 257.4,328.3 260.6,327.1 M212.8,335.9 212.2,340.3 210.9,345.3 209.7,350.0 M229.1,334.0 231.0,339.0 232.3,344.1 231.7,350.0 M235.4,290.0 234.8,296.3 234.2,302.6 235.4,308.9 237.3,315.1 238.6,320.2 M212.8,290.0 215.3,292.5 220.3,293.8 226.6,295.0 231.7,296.3 234.8,296.3 M263.1,290.0 263.7,297.5 264.3,303.8 261.8,306.3 260.6,311.4 260.6,318.9 261.8,323.9 264.3,326.5 266.9,330.2 270.0,332.7 M264.3,304.8 270.0,301.9 274.3,299.1 M160.0,331.5 165.0,330.9 170.1,332.1 172.6,333.4 M160.0,345.3 163.8,347.8 166.3,350.0 M629.3,260.0 632.3,263.7 633.5,269.8 631.1,274.6 630.5,280.7 632.3,284.4 630.5,286.2 M661.0,260.0 659.8,264.9 654.9,269.8 651.2,272.2 648.8,275.9 645.1,279.5 641.5,282.6 637.8,281.3 634.1,280.1 632.3,284.4 M630.5,286.2 636.6,288.0 641.5,289.9 646.3,290.5 651.2,287.4 654.9,286.2 658.5,288.7 663.4,286.2 668.3,285.0 673.2,285.6 675.6,284.8 M631.1,286.8 635.4,291.7 640.2,295.4 643.9,296.0 648.8,295.4 653.7,296.6 656.7,299.0 655.5,302.1 658.5,305.1 663.4,307.0 665.9,310.0 666.5,312.7 M608.5,314.3 614.6,314.3 622.0,315.5 628.0,317.3 631.1,320.4 632.3,323.4 636.6,324.6 639.0,324.9 M600.0,286.2 606.1,288.0 611.6,289.3 M611.6,289.3 615.9,284.4 622.0,282.6 628.0,285.6 630.5,286.2 M611.6,289.3 611.0,295.4 608.5,301.5 607.9,308.8 608.5,314.3 607.3,321.0 603.7,324.6 600.0,325.2 M600.0,295.4 604.9,292.9 611.6,289.3 M176.3,349.5 175.2,351.2 172.3,352.0 167.0,351.0 M475.9,402.9 480.5,404.7 485.9,408.4 489.6,411.1 485.9,412.1 480.5,413.0 476.8,415.7 474.1,417.2 475.0,413.9 476.8,410.2 475.9,406.6"/>
<path d="M110.1,258.1 111.3,255.0 116.5,252.6 121.9,250.8 127.4,248.0 133.8,244.7 139.3,241.6 144.8,238.9 148.5,237.1 149.7,233.4 147.9,227.9 146.6,223.3 145.3,218.8 145.0,214.7 147.2,211.1 151.2,207.8 154.9,205.1 159.4,203.2 164.0,202.5 169.5,201.8 175.0,202.3 180.5,201.9 185.9,201.9 191.4,202.7 196.0,203.6 200.6,205.6 205.1,207.4 209.7,208.7 214.3,209.6 219.8,210.0 226.2,210.2 231.7,211.1 237.1,211.8 241.7,211.8 246.3,211.3 251.8,210.9 257.3,210.5 260.0,210.5 260.0,210.5 265.5,210.0 272.8,209.3 278.3,210.0 283.8,211.8 289.3,213.7 296.6,215.1 303.0,215.5 307.5,213.3 314.9,211.8 322.2,210.5 329.5,209.3 336.8,209.6 342.3,211.1 347.8,212.4 353.3,211.8 358.7,211.1 364.2,212.4 369.7,213.7 377.0,215.5 384.3,217.3 391.7,217.9 396.2,214.2 399.0,211.8 404.5,211.1 411.8,210.5 420.0,211.5 420.0,211.1 427.3,212.4 434.6,213.7 441.9,215.5 449.3,216.0 456.6,215.1 463.9,216.6 471.2,218.8 478.5,218.4 484.0,216.6 486.7,217.9 488.6,221.5 492.2,223.3 496.8,222.4 500.5,219.7 501.9,216.9 503.2,220.6 505.6,224.3 509.6,227.5 512.3,230.7 515.1,228.8 519.7,226.1 515.1,222.4 509.6,219.7 505.9,217.9 511.4,218.8 518.7,219.7 526.1,222.1 533.4,223.3 540.7,224.3 548.0,225.2 551.7,222.8 557.1,223.3 564.5,225.2 571.8,226.1 580.0,227.0 580.0,224.3 585.5,227.0 592.8,229.7 600.1,231.6 607.4,233.4 612.9,238.0 618.4,238.9 623.9,238.0 628.5,239.8 631.2,244.4 634.9,248.0 640.3,248.9 644.9,248.0 649.5,251.7 655.0,254.4 660.5,256.8 665.9,256.3 670.5,252.6 675.1,253.5 679.7,248.9 681.5,249.9 680.2,255.3 678.4,260.8 676.5,266.3 677.8,271.8 676.9,277.3 676.0,282.8 676.9,288.3 679.7,293.7 684.2,297.4 687.9,302.0 689.0,305.7 685.4,307.6 682.9,305.1 679.3,303.9 675.0,306.3 674.4,311.2 676.8,313.7 672.0,316.1 667.7,313.7 665.9,312.4 661.0,314.9 660.5,316.8 655.0,321.4 649.5,320.5 644.0,321.4 638.5,325.1 634.9,329.6 630.3,335.1 626.6,342.4 623.9,349.7 621.1,357.1 619.3,363.5 615.7,367.1 610.2,369.9 607.4,373.5 608.3,379.0 607.4,383.6 601.9,385.4 597.4,386.3 592.8,389.1 588.2,391.8 583.7,394.5 580.0,396.4 580.0,393.6 575.4,395.5 569.9,396.4 562.6,398.2 555.3,400.0 548.0,396.4 540.7,397.3 537.0,400.9 533.4,404.6 529.7,402.8 524.2,400.0 518.7,401.9 511.4,404.6 504.1,407.3 498.6,410.1 494.1,413.7 488.6,410.1 483.1,406.4 478.5,403.7 473.9,404.6 468.5,408.3 463.0,410.1 456.6,410.1 450.2,408.3 446.5,404.6 441.0,400.9 435.5,398.2 430.1,398.2 424.6,401.9 420.0,405.5 420.0,406.4 415.4,410.1 409.9,408.3 404.5,404.6 399.0,400.0 394.4,395.5 388.0,392.7 380.7,392.7 373.4,394.0 367.9,395.5 362.4,397.3 356.9,399.1 351.4,400.0 345.9,401.9 340.5,401.9 335.9,400.9 332.2,397.3 327.7,396.4 322.2,398.2 316.7,400.0 311.2,398.7 306.6,396.4 302.1,393.6 296.6,391.8 292.0,391.4 288.3,392.7 286.5,395.5 283.8,392.7 280.1,395.5 276.5,398.2 271.0,400.9 265.5,403.7 260.0,406.4 260.0,402.8 257.3,404.6 251.8,406.4 246.3,408.3 240.8,407.3 234.4,408.3 230.7,411.0 228.0,414.7 221.6,413.7 217.0,411.9 213.4,408.3 209.7,406.4 207.9,401.9 204.2,399.1 198.7,398.2 193.3,398.7 187.8,399.5 182.3,400.9 177.7,400.0 173.1,402.8 170.4,406.4 165.8,408.3 160.3,407.3 154.9,406.4 149.4,404.6 143.9,404.6 138.8,407.3 139.3,411.0 138.4,413.7 136.2,410.1 133.8,407.3 129.3,406.4 128.9,400.9 129.3,395.5 131.5,390.9 135.7,388.1 141.1,386.7 144.8,383.6 142.1,379.0 136.6,376.3 132.9,373.5 134.7,368.0 137.5,364.4 134.7,360.7 135.1,355.2 137.5,350.7 139.3,345.2 139.9,338.8 141.1,333.3 140.6,328.7 143.0,325.1 145.7,320.5 149.0,315.0 149.0,315.0 147.2,311.1 144.8,306.5 142.4,302.0 140.6,297.4 139.3,292.8 138.0,288.6 136.2,285.0 132.0,282.4 127.1,281.3 123.4,279.5 120.1,276.4 117.4,272.7 115.0,268.5 112.4,264.9 110.6,261.2 110.1,258.1Z" stroke-width="2.1"/>
</g>
<g fill="#000">
<ellipse cx="368.5" cy="427.5" rx="5.5" ry="1.6" transform="rotate(-35 368.5 427.5)"/>
<ellipse cx="391.3" cy="414.7" rx="1.2" ry="1.8" transform="rotate(0 391.3 414.7)"/>
<ellipse cx="415.8" cy="417.5" rx="1.6" ry="1.0" transform="rotate(0 415.8 417.5)"/>
<ellipse cx="289.0" cy="399.5" rx="1" ry="1" transform="rotate(0 289.0 399.5)"/>
<ellipse cx="294.0" cy="394.5" rx="1" ry="1" transform="rotate(0 294.0 394.5)"/>
<ellipse cx="296.0" cy="399.5" rx="0.9" ry="0.9" transform="rotate(0 296.0 399.5)"/>
<ellipse cx="313.4" cy="405.5" rx="1" ry="0.8" transform="rotate(0 313.4 405.5)"/>
<ellipse cx="329.5" cy="404.6" rx="0.9" ry="0.9" transform="rotate(0 329.5 404.6)"/>
<ellipse cx="357.0" cy="402.5" rx="1" ry="1" transform="rotate(0 357.0 402.5)"/>
<ellipse cx="683.3" cy="243.5" rx="1.0" ry="1.0" transform="rotate(0 683.3 243.5)"/>
<ellipse cx="691.5" cy="246.5" rx="1.8" ry="2.3" transform="rotate(0 691.5 246.5)"/>
<ellipse cx="680.5" cy="265.4" rx="1.0" ry="1.3" transform="rotate(0 680.5 265.4)"/>
<ellipse cx="683.8" cy="275.0" rx="0.9" ry="0.9" transform="rotate(0 683.8 275.0)"/>
<ellipse cx="690.5" cy="296.5" rx="2.4" ry="1.5" transform="rotate(10 690.5 296.5)"/>
<ellipse cx="686.0" cy="311.0" rx="2" ry="1" transform="rotate(20 686.0 311.0)"/>
<ellipse cx="641.0" cy="332.0" rx="1.2" ry="1.2" transform="rotate(0 641.0 332.0)"/>
<ellipse cx="654.5" cy="323.5" rx="1.2" ry="1.0" transform="rotate(0 654.5 323.5)"/>
<ellipse cx="447.8" cy="404.7" rx="1.6" ry="3" transform="rotate(-25 447.8 404.7)"/>
<ellipse cx="464.0" cy="411.6" rx="6.5" ry="2.2" transform="rotate(25 464.0 411.6)"/>
<ellipse cx="188.0" cy="405.2" rx="0.9" ry="0.7" transform="rotate(0 188.0 405.2)"/>
<ellipse cx="194.0" cy="405.8" rx="0.9" ry="0.7" transform="rotate(0 194.0 405.8)"/>
<ellipse cx="200.5" cy="405.0" rx="0.9" ry="0.7" transform="rotate(0 200.5 405.0)"/>
<ellipse cx="230.0" cy="414.5" rx="1.0" ry="0.8" transform="rotate(0 230.0 414.5)"/>
<ellipse cx="213.0" cy="414.8" rx="1.0" ry="0.8" transform="rotate(0 213.0 414.8)"/>
<ellipse cx="459.3" cy="410.0" rx="2.2" ry="1.4" transform="rotate(10 459.3 410.0)"/>
<ellipse cx="464.8" cy="412.0" rx="1.6" ry="1.6" transform="rotate(0 464.8 412.0)"/>
<ellipse cx="465.7" cy="419.5" rx="4" ry="1.1" transform="rotate(15 465.7 419.5)"/>
<ellipse cx="422.7" cy="415.2" rx="1.2" ry="0.8" transform="rotate(0 422.7 415.2)"/>
<ellipse cx="428.0" cy="415.2" rx="1.2" ry="0.8" transform="rotate(0 428.0 415.2)"/>
<ellipse cx="438.0" cy="415.0" rx="1.2" ry="0.8" transform="rotate(0 438.0 415.0)"/>
<ellipse cx="452.0" cy="414.0" rx="1.5" ry="0.9" transform="rotate(0 452.0 414.0)"/>
<ellipse cx="641.0" cy="332.0" rx="1.3" ry="1.3" transform="rotate(0 641.0 332.0)"/>
</g>
<g stroke="#262626" stroke-width="1" fill="none" shape-rendering="crispEdges">
<rect x="100.0" y="171.5" width="592.5" height="290.0"/>
<path d="M134.5,461.5v-6M134.5,171.5v6M204.5,461.5v-6M204.5,171.5v6M273.5,461.5v-6M273.5,171.5v6M341.5,461.5v-6M341.5,171.5v6M410.5,461.5v-6M410.5,171.5v6M480.5,461.5v-6M480.5,171.5v6M549.5,461.5v-6M549.5,171.5v6M618.5,461.5v-6M618.5,171.5v6M686.5,461.5v-6M686.5,171.5v6M100.0,389.5h6M692.5,389.5h-6M100.0,316.5h6M692.5,316.5h-6M100.0,244.5h6M692.5,244.5h-6"/>
</g>
<g font-size="20.83px">
<text x="134.5" y="490.8" text-anchor="middle">-67.2</text>
<text x="203.5" y="490.8" text-anchor="middle">-67</text>
<text x="272.5" y="490.8" text-anchor="middle">-66.8</text>
<text x="341.5" y="490.8" text-anchor="middle">-66.6</text>
<text x="410.5" y="490.8" text-anchor="middle">-66.4</text>
<text x="479.5" y="490.8" text-anchor="middle">-66.2</text>
<text x="548.5" y="490.8" text-anchor="middle">-66</text>
<text x="617.5" y="490.8" text-anchor="middle">-65.8</text>
<text x="686.5" y="490.8" text-anchor="middle">-65.6</text>
<text x="93" y="469.1" text-anchor="end">17.8</text>
<text x="93" y="396.6" text-anchor="end">18</text>
<text x="93" y="324.1" text-anchor="end">18.2</text>
<text x="93" y="251.5" text-anchor="end">18.4</text>
<text x="93" y="179.0" text-anchor="end">18.6</text>
<text x="769.3" y="452.6">20</text>
<text x="769.3" y="410.4">22</text>
<text x="769.3" y="368.2">24</text>
<text x="769.3" y="326.1">26</text>
<text x="769.3" y="283.9">28</text>
<text x="769.3" y="241.8">30</text>
<text x="769.3" y="199.6">32</text>
</g>
<text x="396.5" y="522.4" font-size="22.92px" text-anchor="middle">Longitude</text>
<text transform="translate(38.7 316) rotate(-90)" font-size="22.92px" text-anchor="middle">Latitude</text>
<text x="397" y="161.7" font-size="23.07px" font-weight="bold" text-anchor="middle" style="fill:#000">EFFECTIVE SURFACE TEMPERATURE (C) 04-Dec-2025</text>
<rect x="728.5" y="171.5" width="32" height="290" fill="url(#cb)" stroke="#262626" stroke-width="1" shape-rendering="crispEdges"/>
<path d="M760.5,445.5h-3M760.5,402.5h-3M760.5,360.5h-3M760.5,318.5h-3M760.5,276.5h-3M760.5,234.5h-3M760.5,192.5h-3" stroke="#262626" stroke-width="1" shape-rendering="crispEdges"/>
</svg></body></html>
